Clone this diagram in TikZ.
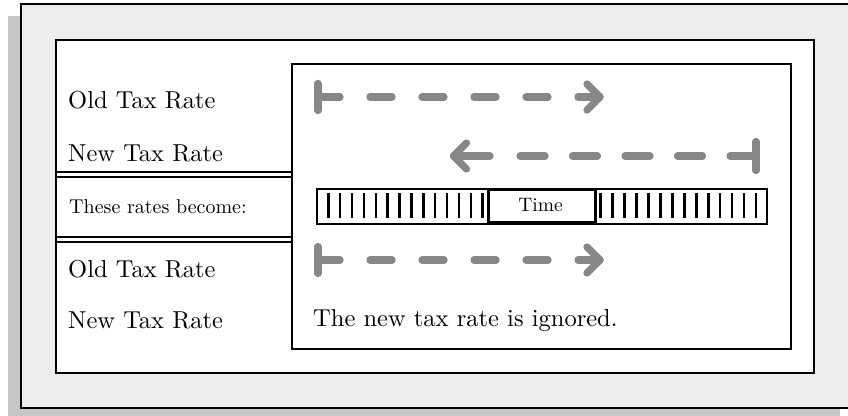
\documentclass[tikz,border=0pt]{standalone}
\usepackage{fontspec}
\setmainfont{lmroman10-regular.otf}
\definecolor{framegray}{HTML}{EDEDED}
\definecolor{shadowgray}{HTML}{C6C6C6}
\definecolor{arrowgray}{HTML}{878787}
\begin{document}
\begin{tikzpicture}[x=1pt,y=-1pt,
  boxline/.style={draw=black,line width=2pt},
  lbl/.style={anchor=base west,inner sep=0pt,font=\fontsize{24.5}{28}\selectfont},
  tl/.style={draw=arrowgray,line width=7.2pt,line cap=round,line join=round},
  dashtl/.style={tl,dash pattern=on 22pt off 30pt},
  dashtlb/.style={tl,dash pattern=on 25pt off 27.5pt},
  tickline/.style={draw=black,line width=2.5pt}
]
\useasboundingbox (0,0) rectangle (848,415);
% shadow and frame
\fill[shadowgray] (8,16) rectangle (840,416);
\draw[boxline,fill=framegray] (21,4) rectangle (852,408);
% inner white box
\draw[boxline,fill=white] (56,40) rectangle (814,373);
% double separators
\draw[boxline] (56,171.7) -- (292,171.7);
\draw[boxline] (56,176.7) -- (292,176.7);
\draw[boxline] (56,237.3) -- (292,237.3);
\draw[boxline] (56,241.9) -- (292,241.9);
% right panel
\draw[boxline,fill=white] (292,64) rectangle (791,349);
% timeline
\draw[boxline] (317,188.5) rectangle (767,224);
\foreach \i in {0,...,13}{
  \draw[tickline] ({328.3+\i*11.88},193.3) -- ({328.3+\i*11.88},218.3);
  \draw[tickline] ({600.7+\i*11.95},193.3) -- ({600.7+\i*11.95},218.3);
}
\node[draw=black,line width=2.5pt,fill=white,minimum width=107pt,minimum height=32.5pt,inner sep=0pt] (timebox) at (542,206.3) {};
\node[anchor=base,inner sep=0pt,font=\fontsize{19.5}{22}\selectfont] (time) at (540.5,211.7) {Time};
% arrow 1 (old rate, first case)
\coordinate (a1s) at (318,97);
\coordinate (a1e) at (548,97);
\coordinate (a1h) at (578,97);
\coordinate (a1t) at (600,97);
\draw[tl] (318,83.5) -- (318,110.5);
\draw[dashtl] (a1s) -- (a1e);
\draw[tl] (a1h) -- (a1t);
\draw[tl] (587,84) -- (a1t) -- (587,110);
% arrow 2 (new rate, leftward)
\coordinate (a2s) at (755,156);
\coordinate (a2e) at (520,156);
\coordinate (a2h) at (490,156);
\coordinate (a2t) at (453.5,156);
\draw[tl] (756,141.5) -- (756,170.5);
\draw[dashtlb] (a2s) -- (a2e);
\draw[tl] (a2h) -- (a2t);
\draw[tl] (466.5,143) -- (a2t) -- (466.5,169);
% arrow 3 (result)
\coordinate (a3s) at (318,260);
\coordinate (a3e) at (548,260);
\coordinate (a3h) at (578,260);
\coordinate (a3t) at (600,260);
\draw[tl] (318,246.5) -- (318,273.5);
\draw[dashtl] (a3s) -- (a3e);
\draw[tl] (a3h) -- (a3t);
\draw[tl] (587,247) -- (a3t) -- (587,273);
% labels
\node[lbl] (old1) at (68,108) {Old Tax Rate};
\node[lbl] (new1) at (68,161) {New Tax Rate};
\node[lbl,font=\fontsize{20}{24}\selectfont] (become) at (69,213) {These rates become:};
\node[lbl] (old2) at (68,277) {Old Tax Rate};
\node[lbl] (new2) at (68,328) {New Tax Rate};
\node[lbl] (ignored) at (313,326) {The new tax rate is ignored.};
\end{tikzpicture}
\end{document}
